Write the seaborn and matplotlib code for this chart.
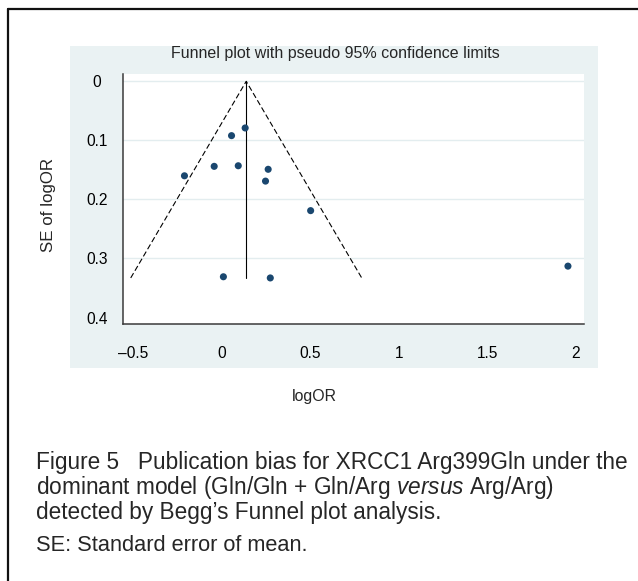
import matplotlib
matplotlib.use("Agg")
import matplotlib.pyplot as plt
import seaborn as sns
import pandas as pd
import numpy as np
from matplotlib.lines import Line2D
from matplotlib.patches import Rectangle

# study estimates
log_or = [0.132, 0.055, -0.043, 0.093, -0.211, 0.262, 0.247, 0.502, 0.009, 0.274, 1.956]
se_log_or = [0.079, 0.092, 0.144, 0.143, 0.160, 0.149, 0.169, 0.219, 0.331, 0.333, 0.313]
pooled_log_or = 0.138
z_95 = 1.96

x_ticks = [-0.5, 0, 0.5, 1, 1.5, 2]
x_tick_labels = ["\u20130.5", "0", "0.5", "1", "1.5", "2"]
y_ticks = [0, 0.1, 0.2, 0.3, 0.4]
y_tick_labels = ["0", "0.1", "0.2", "0.3", "0.4"]

caption_lines = [
    "Figure 5   Publication bias for XRCC1 Arg399Gln under the",
    r"dominant model (Gln/Gln + Gln/Arg $\mathit{versus}$ Arg/Arg)",
    "detected by Begg\u2019s Funnel plot analysis.",
]
note_line = "SE: Standard error of mean."

sns.set_style("white")
plt.rcParams["font.family"] = ["Liberation Sans", "DejaVu Sans"]
plt.rcParams["mathtext.fontset"] = "custom"
plt.rcParams["mathtext.it"] = "Liberation Sans:italic"
plt.rcParams["mathtext.rm"] = "Liberation Sans"

W, H = 638, 581
fig = plt.figure(figsize=(W / 100, H / 100), dpi=100)
fig.patch.set_facecolor("white")

# light blue graph region
fig.patches.append(Rectangle((70 / W, 1 - 368 / H), (598 - 70) / W, (368 - 46) / H,
                             transform=fig.transFigure, facecolor="#eaf2f3",
                             edgecolor="none", zorder=-5))
# outer frame (left and top edges only visible)
fig.lines.append(Line2D([8 / W, 8 / W], [0, 1 - 9 / H], transform=fig.transFigure,
                        color="#111111", lw=1.6))
fig.lines.append(Line2D([8 / W, 1], [1 - 9 / H, 1 - 9 / H], transform=fig.transFigure,
                        color="#111111", lw=1.6))

ax = fig.add_axes([122.7 / W, 1 - 324 / H, (583.7 - 122.7) / W, (324 - 74) / H])
ax.set_zorder(2)
ax.set_facecolor("white")

df = pd.DataFrame({"logOR": log_or, "se": se_log_or})
se_max = df["se"].max()

# pseudo 95% limits
funnel = pd.DataFrame({
    "x": [pooled_log_or - z_95 * se_max, pooled_log_or, pooled_log_or + z_95 * se_max],
    "y": [se_max, 0, se_max],
})
sns.lineplot(data=funnel, x="x", y="y", sort=False, estimator=None, ax=ax,
             color="black", lw=0.8, dashes=False, linestyle=(0, (5, 2.5)))
center = pd.DataFrame({"x": [pooled_log_or, pooled_log_or], "y": [0, se_max]})
sns.lineplot(data=center, x="x", y="y", sort=False, estimator=None, ax=ax,
             color="black", lw=0.8)

sns.scatterplot(data=df, x="logOR", y="se", ax=ax, color="#1a476f", s=26,
                edgecolor="none", zorder=3)

ax.set_xlim(-0.56, 2.045)
ax.set_ylim(0.411, -0.0124)
ax.set_xticks(x_ticks)
ax.set_xticklabels(x_tick_labels)
ax.set_yticks(y_ticks)
ax.set_yticklabels(y_tick_labels)
ax.set_xlabel("")
ax.set_ylabel("")

ax.yaxis.grid(True, color="#e3edef", lw=1.0)
ax.get_ygridlines()[-1].set_visible(False)
ax.xaxis.grid(False)
ax.set_axisbelow(True)

for side in ["top", "right"]:
    ax.spines[side].set_visible(False)
for side in ["left", "bottom"]:
    ax.spines[side].set_color("#3a3a3a")
    ax.spines[side].set_linewidth(1.1)

ax.tick_params(axis="both", direction="out", length=3.6, width=0.9, color="#3a3a3a",
               labelsize=11.2, labelcolor="black")
ax.tick_params(axis="y", pad=15)
ax.tick_params(axis="x", pad=12)
for lab in ax.get_yticklabels():
    lab.set_horizontalalignment("center")

fig.text(335.5 / W, 1 - 53.3 / H, "Funnel plot with pseudo 95% confidence limits",
         ha="center", va="center", fontsize=11.5)
fig.text(49 / W, 1 - 205.5 / H, "SE of logOR", rotation=90, ha="center", va="center",
         fontsize=12.2)
fig.text(314.6 / W, 1 - 396 / H, "logOR", ha="center", va="center", fontsize=11.4)

baselines = [469, 494, 519]
for line, yb in zip(caption_lines, baselines):
    fig.text(36 / W, 1 - yb / H, line, ha="left", va="baseline", fontsize=16.3)
fig.text(36 / W, 1 - 551 / H, note_line, ha="left", va="baseline", fontsize=15.7)

fig.savefig("out.png", dpi=100, facecolor="white")
